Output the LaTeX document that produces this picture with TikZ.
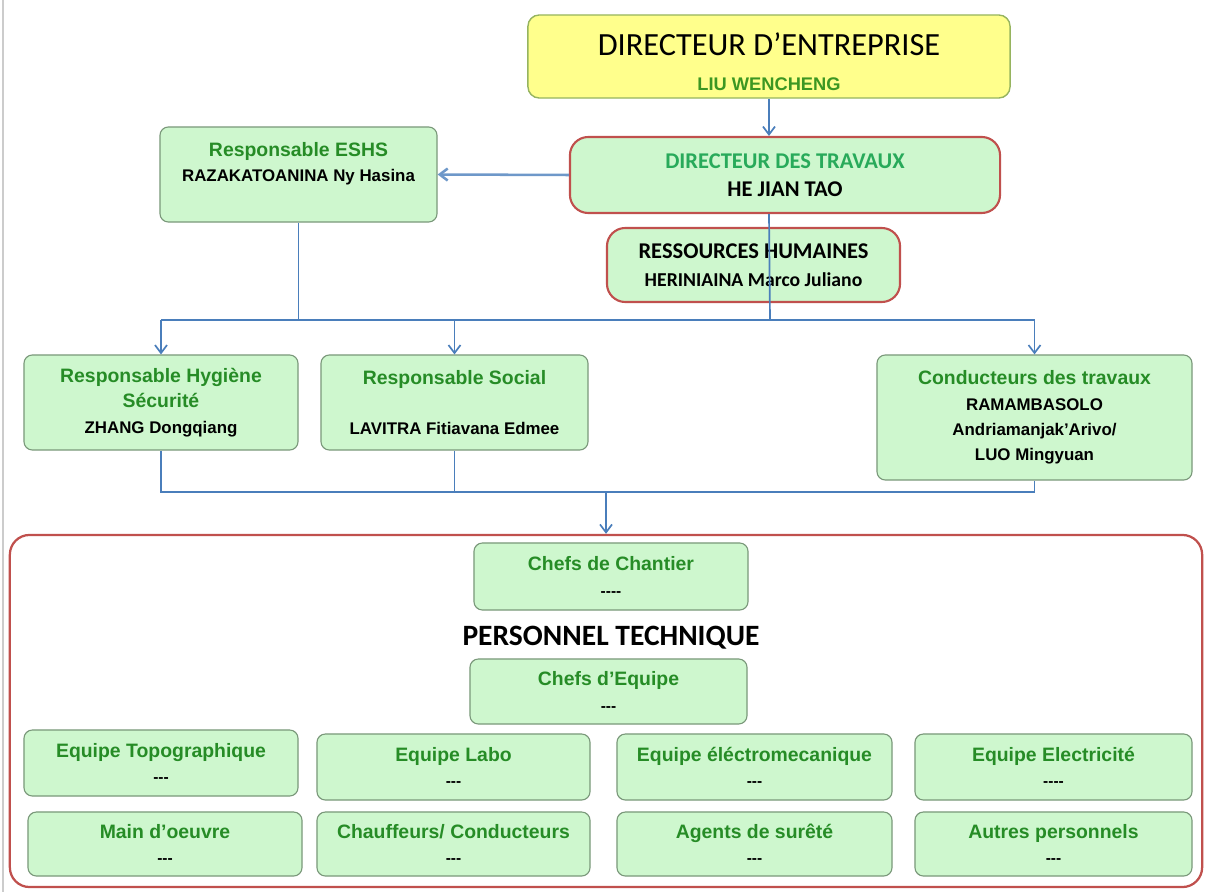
\documentclass[tikz,border=0pt]{standalone}
\usepackage{fontspec}
\setmainfont{Liberation Sans}
\newfontfamily\calib{Carlito}
\usetikzlibrary{arrows.meta,positioning}

\definecolor{boxfill}{RGB}{206,247,206}
\definecolor{boxline}{RGB}{122,152,122}
\definecolor{redline}{RGB}{192,80,77}
\definecolor{blueline}{RGB}{74,126,187}
\definecolor{hdgreen}{RGB}{38,140,38}
\definecolor{dtgreen}{RGB}{40,170,90}
\definecolor{yellowfill}{RGB}{255,255,140}
\definecolor{yellowline}{RGB}{150,180,95}

\newcommand\hd[1]{{\color{hdgreen}\fontsize{13.8}{18}\selectfont#1}}
\newcommand\nm[1]{{\fontsize{12}{18}\selectfont#1}}
\newcommand\trait[1]{{\fontsize{11}{18}\selectfont#1}}
\newcommand\ttl[1]{{\calib\fontsize{16}{19.5}\selectfont#1}}

\begin{document}
\begin{tikzpicture}[x=0.025cm, y=-0.025cm, every node/.style={align=center,inner sep=0pt,font=\bfseries\fontsize{12}{18}\selectfont}, box/.style={draw=boxline,fill=boxfill,rounded corners=6pt,line width=0.8pt}, redbox/.style={draw=redline,fill=boxfill,rounded corners=13pt,line width=1.5pt}, arr/.style={-{Straight Barb[length=2mm,width=3mm]},draw=blueline,line width=1.2pt}, wire/.style={draw=blueline,line width=1.2pt}]
\useasboundingbox (0,0) rectangle (1212,892);
\draw[black!20,line width=1pt] (3,0) -- (3,892);
% top of the chart
\node[draw=yellowline,fill=yellowfill,rounded corners=8pt,line width=1pt,minimum width=12.05cm,minimum height=2.075cm,font=\bfseries\fontsize{13}{25}\selectfont] (de) at (769,56.5) {\rule{0pt}{23pt}{\calib\mdseries\fontsize{23}{25}\selectfont DIRECTEUR D’ENTREPRISE}\\{\color{hdgreen!90!yellow}LIU WENCHENG}};
\node[box,minimum width=6.925cm,minimum height=2.375cm] (eshs) at (298.5,174.5) {\hd{Responsable ESHS}\\\nm{RAZAKATOANINA Ny Hasina}\\~};
\node[redbox,minimum width=10.75cm,minimum height=1.9cm,font=\bfseries\fontsize{12}{19.5}\selectfont] (dt) at (785,175) {\ttl{\color{dtgreen}DIRECTEUR DES TRAVAUX}\\\ttl{HE JIAN TAO}};
\node[redbox,minimum width=7.325cm,minimum height=1.85cm,font=\bfseries\fontsize{12}{19.5}\selectfont] (rh) at (753.5,265) {\ttl{RESSOURCES HUMAINES}\\{\calib\fontsize{14}{19.5}\selectfont HERINIAINA Marco Juliano}};
% responsables
\node[box,minimum width=6.85cm,minimum height=2.375cm] (hyg) at (161,402.5) {\hd{Responsable Hygiène}\\\hd{Sécurité}\\\nm{ZHANG Dongqiang}};
\node[box,minimum width=6.675cm,minimum height=2.375cm] (soc) at (454.5,402.5) {\hd{Responsable Social}\\~\\\nm{LAVITRA Fitiavana Edmee}};
\node[box,minimum width=7.875cm,minimum height=3.125cm] (cond) at (1034.5,417.5) {\hd{Conducteurs des travaux}\\\nm{RAMAMBASOLO}\\\nm{Andriamanjak’Arivo/}\\\nm{LUO Mingyuan}};
% personnel technique
\node[draw=redline,fill=white,rounded corners=14pt,line width=1.6pt,minimum width=29.8cm,minimum height=8.8cm] (pers) at (606,711) {};
\node[box,minimum width=6.85cm,minimum height=1.675cm] (cc) at (611,576.5) {\hd{Chefs de Chantier}\\\trait{-{}-{}-{}-}};
\node[font=\calib\bfseries\fontsize{21}{24}\selectfont] (pt) at (611,638) {PERSONNEL TECHNIQUE};
\node[box,minimum width=6.925cm,minimum height=1.625cm] (ce) at (608.5,691.5) {\hd{Chefs d’Equipe}\\\trait{-{}-{}-}};
\node[box,minimum width=6.85cm,minimum height=1.65cm] (topo) at (161,763) {\hd{Equipe Topographique}\\\trait{-{}-{}-}};
\node[box,minimum width=6.825cm,minimum height=1.65cm] (labo) at (453.5,767) {\hd{Equipe Labo}\\\trait{-{}-{}-}};
\node[box,minimum width=6.875cm,minimum height=1.65cm] (elm) at (754.5,767) {\hd{Equipe éléctromecanique}\\\trait{-{}-{}-}};
\node[box,minimum width=6.925cm,minimum height=1.65cm] (elec) at (1053.5,767) {\hd{Equipe Electricité}\\\trait{-{}-{}-{}-}};
\node[box,minimum width=6.85cm,minimum height=1.6cm] (mo) at (165,844) {\hd{Main d’oeuvre}\\\trait{-{}-{}-}};
\node[box,minimum width=6.825cm,minimum height=1.6cm] (chf) at (453.5,844) {\hd{Chauffeurs/ Conducteurs}\\\trait{-{}-{}-}};
\node[box,minimum width=6.875cm,minimum height=1.6cm] (ags) at (754.5,844) {\hd{Agents de surêté}\\\trait{-{}-{}-}};
\node[box,minimum width=6.925cm,minimum height=1.6cm] (aut) at (1053.5,844) {\hd{Autres personnels}\\\trait{-{}-{}-}};
% connectors
\coordinate (bt) at (770,320);
\coordinate (bb) at (606,492);
\draw[arr] (de.south) -- (de.south |- dt.north);
\draw[arr,line width=1.8pt,draw=blueline!80] (dt.west) -- (eshs.east);
\draw[wire] (de.south |- dt.south) -- (bt);
\draw[wire] (eshs.south) -- (eshs.south |- bt);
\draw[wire] (hyg.north |- bt) -- (cond.north |- bt);
\draw[arr] (hyg.north |- bt) -- (hyg.north);
\draw[arr] (soc.north |- bt) -- (soc.north);
\draw[arr] (cond.north |- bt) -- (cond.north);
\draw[wire] (hyg.south) -- (hyg.south |- bb) -- (cond.south |- bb) -- (cond.south);
\draw[wire] (soc.south) -- (soc.south |- bb);
\draw[arr] (bb) -- (pers.north);
\end{tikzpicture}
\end{document}
